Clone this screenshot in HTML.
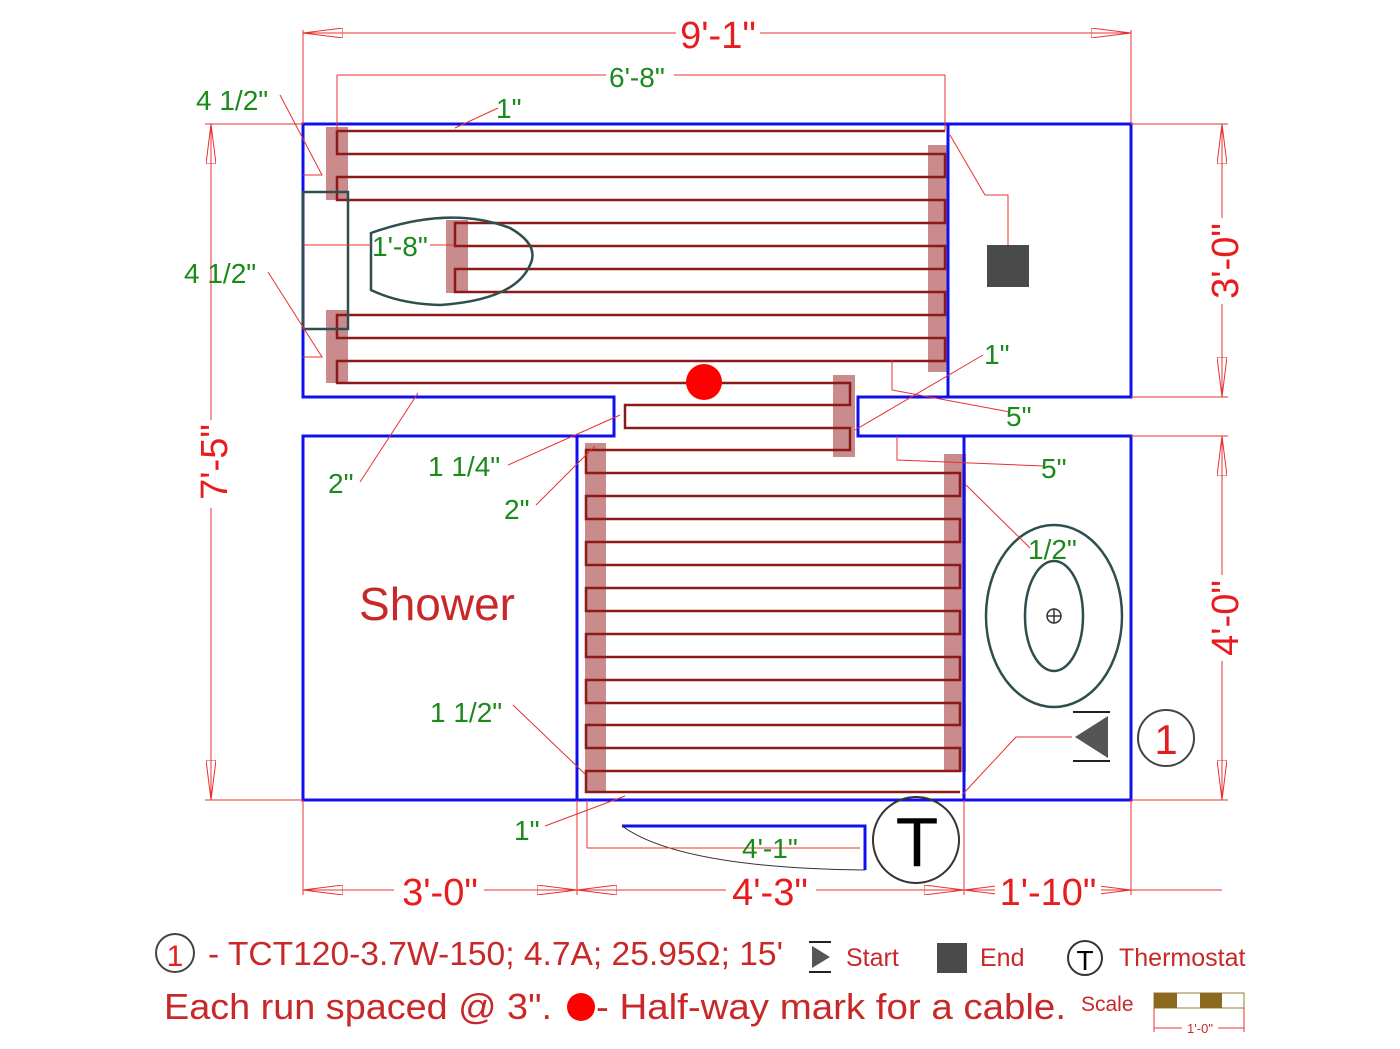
<!DOCTYPE html>
<html><head><meta charset="utf-8"><style>
html,body{margin:0;padding:0;background:#fff;}
svg{display:block;}
text{font-family:"Liberation Sans",sans-serif;}
</style></head><body>
<svg width="1400" height="1049" viewBox="0 0 1400 1049" xmlns="http://www.w3.org/2000/svg">
<defs>
<marker id="ar" viewBox="0 0 40 10" refX="40" refY="5" markerWidth="40" markerHeight="10" markerUnits="userSpaceOnUse" orient="auto-start-reverse">
<path d="M40,5 L0,0 L0,10 Z" fill="none" stroke="#e83030" stroke-width="1"/>
</marker>
</defs>
<!-- pads -->
<g fill="#c98b8b">
<rect x="326" y="127" width="22" height="73"/>
<rect x="326" y="310" width="22" height="73"/>
<rect x="446" y="220" width="22" height="73"/>
<rect x="928" y="145" width="20" height="227"/>
<rect x="833" y="375" width="22" height="82"/>
<rect x="585" y="443" width="21" height="350"/>
<rect x="944" y="454" width="22" height="318"/>
</g>
<!-- cable -->
<path d="M945,131 H337 V154 H945 V177 H337 V200 H945 V223 H455 V246 H945 V269 H455 V292 H945 V315 H337 V338 H945 V361 H337 V383 H850 V405 H625 V428 H850 V450 H586 V473 H960 V496 H586 V519 H960 V542 H586 V565 H960 V588 H586 V611 H960 V634 H586 V657 H960 V680 H586 V703 H960 V725 H586 V748 H960 V771 H586 V792 H960" fill="none" stroke="#8b1a1a" stroke-width="2.5"/>
<!-- walls -->
<g fill="none" stroke="#1010ee" stroke-width="3">
<path d="M303,124 H1131 V397 H858 V436 H1131 V800 H303 V436 H614 V397 H303 Z"/>
<line x1="948" y1="124" x2="948" y2="397"/>
<line x1="577" y1="436" x2="577" y2="800"/>
<line x1="964" y1="436" x2="964" y2="800"/>
<path d="M622,826 H865 V870"/>
</g>
<path d="M622,826 Q680,868 865,870" fill="none" stroke="#333" stroke-width="1"/>
<!-- toilet -->
<g fill="none" stroke="#2f4f4f" stroke-width="2.5">
<rect x="303" y="192" width="45" height="137"/>
<path d="M371,233 Q450,205 510,228 Q540,245 530,265 Q515,300 440,305 Q400,304 371,290 Z"/>
<ellipse cx="1054" cy="616" rx="68" ry="91"/>
<ellipse cx="1054" cy="616" rx="29" ry="55"/>
</g>
<circle cx="1054" cy="616" r="7" fill="none" stroke="#333" stroke-width="1.5"/>
<path d="M1047,616 H1061 M1054,609 V623" stroke="#333" stroke-width="1.5"/>
<!-- end square -->
<rect x="987" y="245" width="42" height="42" fill="#4a4a4a"/>
<!-- start -->
<path d="M1075,737 L1108,716 L1108,758 Z" fill="#555"/>
<path d="M1073,712 H1110 M1073,761 H1110" stroke="#222" stroke-width="2"/>
<circle cx="1166" cy="738" r="28" fill="none" stroke="#444" stroke-width="2"/>
<text x="1166" y="754" font-size="42" fill="#e02020" text-anchor="middle">1</text>
<!-- thermostat -->
<circle cx="916" cy="840" r="43" fill="none" stroke="#333" stroke-width="2"/>
<text x="917" y="866" font-size="70" fill="#000" text-anchor="middle">T</text>
<!-- half-way -->
<circle cx="704" cy="382" r="18" fill="#f00"/>
<!-- dims -->
<g stroke="#e83030" stroke-width="1" fill="none">
<line x1="303" y1="30" x2="303" y2="124"/><line x1="1131" y1="30" x2="1131" y2="124"/>
<line x1="303" y1="33" x2="1131" y2="33" marker-start="url(#ar)" marker-end="url(#ar)"/>
<line x1="337" y1="75" x2="337" y2="131"/><line x1="945" y1="75" x2="945" y2="131"/>
<line x1="337" y1="75" x2="945" y2="75"/>
<line x1="205" y1="124" x2="303" y2="124"/><line x1="205" y1="800" x2="303" y2="800"/>
<line x1="211" y1="124" x2="211" y2="800" marker-start="url(#ar)" marker-end="url(#ar)"/>
<line x1="1131" y1="124" x2="1228" y2="124"/><line x1="1131" y1="397" x2="1228" y2="397"/>
<line x1="1131" y1="436" x2="1228" y2="436"/><line x1="1131" y1="800" x2="1228" y2="800"/>
<line x1="1222" y1="124" x2="1222" y2="397" marker-start="url(#ar)" marker-end="url(#ar)"/>
<line x1="1222" y1="436" x2="1222" y2="800" marker-start="url(#ar)" marker-end="url(#ar)"/>
<line x1="303" y1="800" x2="303" y2="895"/><line x1="577" y1="800" x2="577" y2="895"/>
<line x1="964" y1="800" x2="964" y2="895"/><line x1="1131" y1="800" x2="1131" y2="895"/>
<line x1="303" y1="890" x2="577" y2="890" marker-start="url(#ar)" marker-end="url(#ar)"/>
<line x1="577" y1="890" x2="964" y2="890" marker-start="url(#ar)" marker-end="url(#ar)"/>
<line x1="964" y1="890" x2="1131" y2="890" marker-start="url(#ar)" marker-end="url(#ar)"/>
<line x1="1131" y1="890" x2="1222" y2="890"/>
<line x1="587" y1="800" x2="587" y2="848"/><line x1="587" y1="848" x2="860" y2="848"/>
<!-- leaders -->
<polyline points="280,95 322,175 303,175"/>
<polyline points="268,272 322,357 303,357"/>
<line x1="303" y1="245" x2="371" y2="245"/><line x1="430" y1="245" x2="455" y2="245"/>
<line x1="455" y1="128" x2="498" y2="108"/>
<line x1="360" y1="482" x2="418" y2="393"/>
<line x1="508" y1="465" x2="620" y2="415"/>
<line x1="536" y1="505" x2="595" y2="446"/>
<line x1="513" y1="705" x2="586" y2="775"/>
<line x1="545" y1="826" x2="625" y2="796"/>
<line x1="855" y1="430" x2="983" y2="355"/>
<polyline points="892,360 892,390 1010,412"/>
<polyline points="897,436 897,460 1043,466"/>
<line x1="966" y1="485" x2="1030" y2="548"/>
<polyline points="950,135 985,195 1008,195 1008,245"/>
<polyline points="962,795 1016,737 1072,737"/>
</g>
<!-- red dim text -->
<g fill="#e81c1c" font-size="38" text-anchor="middle">
<rect x="676" y="14" width="84" height="38" fill="#fff"/>
<text x="718" y="48">9'-1"</text>
<rect x="394" y="872" width="90" height="38" fill="#fff"/>
<text x="440" y="905">3'-0"</text>
<rect x="726" y="872" width="90" height="38" fill="#fff"/>
<text x="770" y="905">4'-3"</text>
<rect x="995" y="872" width="106" height="38" fill="#fff"/>
<text x="1048" y="905">1'-10"</text>
<rect x="194" y="420" width="30" height="88" fill="#fff"/>
<text transform="translate(227,462) rotate(-90)">7'-5"</text>
<rect x="1206" y="218" width="32" height="86" fill="#fff"/>
<text transform="translate(1238,261) rotate(-90)">3'-0"</text>
<rect x="1206" y="575" width="32" height="86" fill="#fff"/>
<text transform="translate(1238,618) rotate(-90)">4'-0"</text>
</g>
<!-- green labels -->
<g fill="#1a8a1a" font-size="28">
<rect x="606" y="60" width="68" height="30" fill="#fff"/>
<text x="609" y="87">6'-8"</text>
<text x="196" y="110">4 1/2"</text>
<text x="496" y="118">1"</text>
<text x="372" y="256">1'-8"</text>
<text x="184" y="283">4 1/2"</text>
<text x="984" y="364">1"</text>
<text x="1006" y="426">5"</text>
<text x="328" y="493">2"</text>
<text x="428" y="476">1 1/4"</text>
<text x="1041" y="478">5"</text>
<text x="504" y="519">2"</text>
<text x="1028" y="559">1/2"</text>
<text x="430" y="722">1 1/2"</text>
<text x="514" y="840">1"</text>
<text x="742" y="858">4'-1"</text>
</g>
<text x="437" y="620" font-size="46" fill="#c82828" text-anchor="middle">Shower</text>
<!-- legend -->
<circle cx="175" cy="953" r="19" fill="none" stroke="#444" stroke-width="2"/>
<text x="175" y="966" font-size="30" fill="#e02020" text-anchor="middle">1</text>
<text x="208" y="965" font-size="33" fill="#c82828" textLength="575" lengthAdjust="spacingAndGlyphs">- TCT120-3.7W-150; 4.7A; 25.95Ω; 15'</text>
<path d="M812,946 L830,957 L812,968 Z" fill="#555"/>
<path d="M809,942 H831 M809,972 H831" stroke="#222" stroke-width="2"/>
<text x="846" y="966" font-size="25" fill="#c82828">Start</text>
<rect x="937" y="943" width="30" height="30" fill="#4a4a4a"/>
<text x="980" y="966" font-size="25" fill="#c82828">End</text>
<circle cx="1085" cy="958" r="17" fill="none" stroke="#333" stroke-width="2"/>
<text x="1085" y="970" font-size="28" fill="#000" text-anchor="middle">T</text>
<text x="1119" y="966" font-size="25" fill="#c82828">Thermostat</text>
<text x="164" y="1019" font-size="36" fill="#c82828" textLength="388" lengthAdjust="spacingAndGlyphs">Each run spaced @ 3".</text>
<circle cx="581" cy="1007" r="14" fill="#f00"/>
<text x="596" y="1019" font-size="36" fill="#c82828" textLength="470" lengthAdjust="spacingAndGlyphs">- Half-way mark for a cable.</text>
<text x="1081" y="1011" font-size="21" fill="#c82828">Scale</text>
<rect x="1154" y="993" width="90" height="15" fill="#fff" stroke="#9b7a3a" stroke-width="1"/>
<rect x="1154" y="993" width="23" height="15" fill="#8b6a20"/>
<rect x="1200" y="993" width="22" height="15" fill="#8b6a20"/>
<g stroke="#e83030" stroke-width="1"><line x1="1154" y1="1008" x2="1154" y2="1032"/><line x1="1244" y1="1008" x2="1244" y2="1032"/><line x1="1154" y1="1028" x2="1244" y2="1028"/></g>
<rect x="1182" y="1020" width="36" height="14" fill="#fff"/>
<text x="1200" y="1033" font-size="13" fill="#c82828" text-anchor="middle">1'-0"</text>
</svg>
</body></html>
